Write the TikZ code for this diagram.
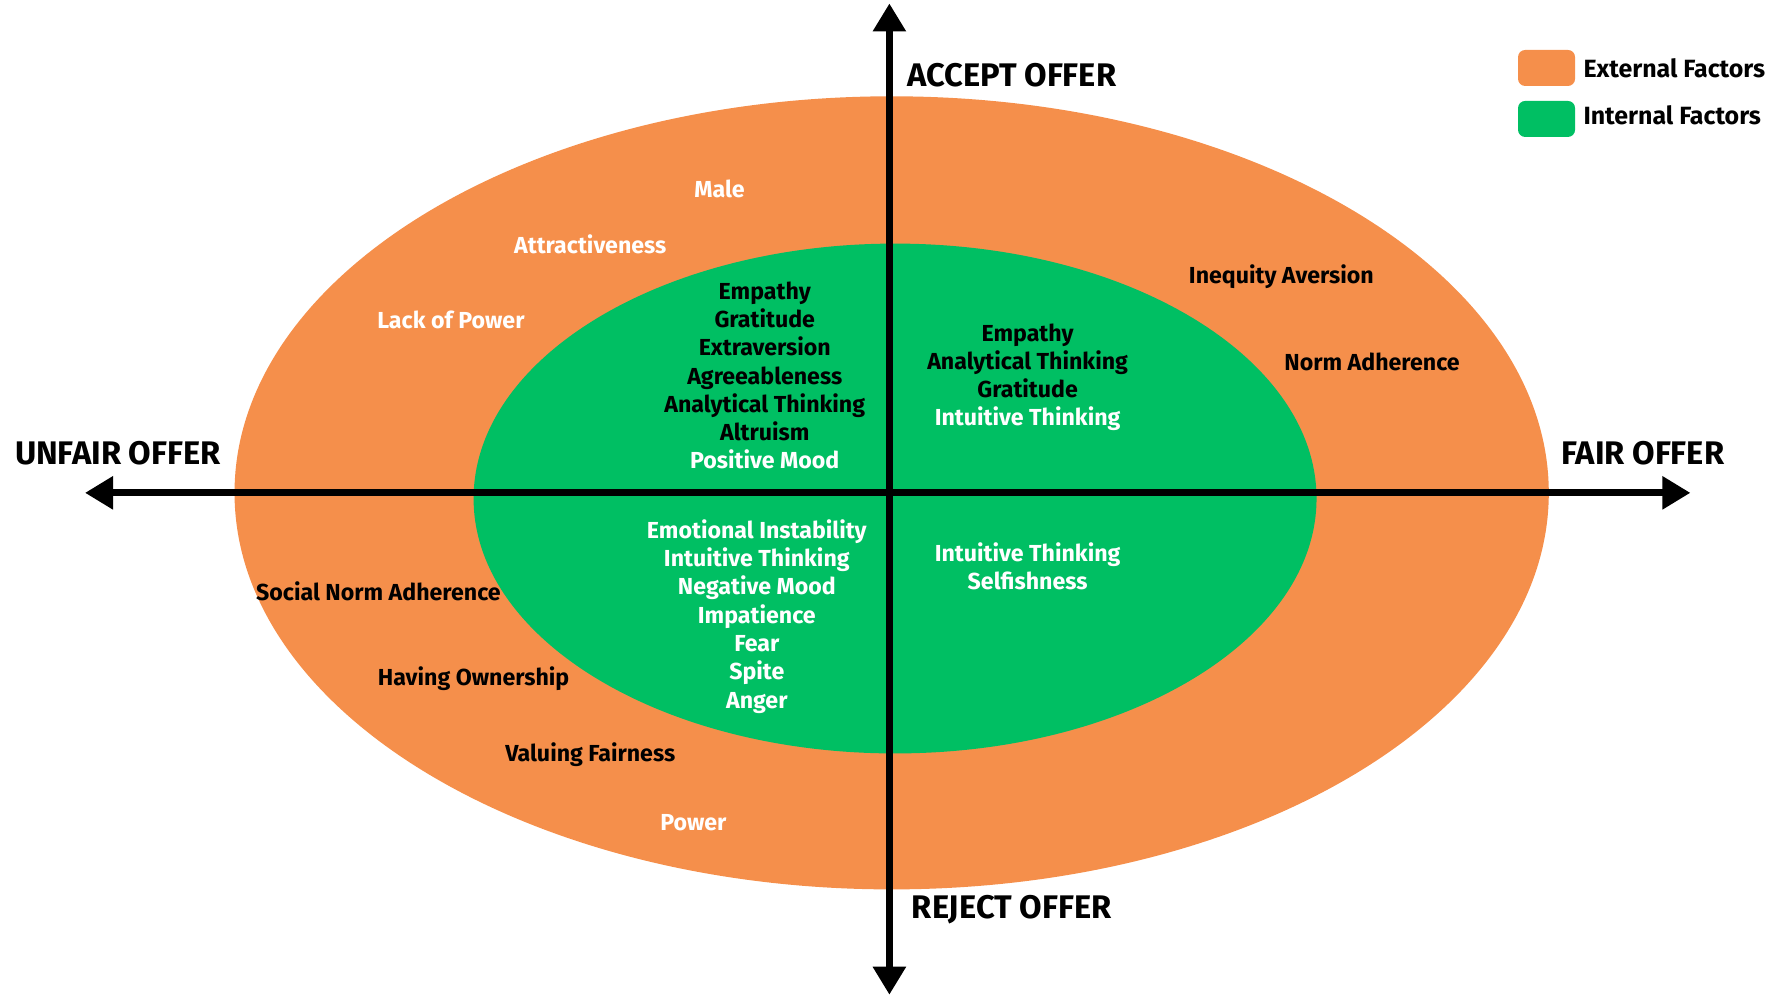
\documentclass[tikz,border=0pt]{standalone}
\usepackage{fontspec}
\setmainfont{Fira Sans}
\usetikzlibrary{arrows.meta}
\definecolor{extOrange}{HTML}{F58F4B}
\definecolor{intGreen}{HTML}{00BF63}
\tikzset{
    factor/.style={font=\fontsize{6.6}{8}\selectfont\bfseries,align=center,inner sep=0pt},
    light/.style={factor,text=white},
    dark/.style={factor,text=black},
    list/.style={font=\fontsize{6.6}{8.05}\selectfont\bfseries,anchor=north},
    axislabel/.style={font=\fontsize{9.3}{11}\selectfont\bfseries,inner sep=0pt},
    axis/.style={line width=2pt,{Triangle[length=8pt,width=9pt]}-{Triangle[length=8pt,width=9pt]}},
    key/.style={rounded corners=2pt,minimum width=0.57cm,minimum height=0.36cm,inner sep=0pt},
    keylabel/.style={dark,anchor=west,font=\fontsize{7.1}{9}\selectfont\bfseries}
}
\begin{document}
\begin{tikzpicture}[x=0.01133cm,y=-0.01133cm]
    \useasboundingbox (0,0) rectangle (1564,880);
    % ellipses
    \fill[extOrange] (787,435) ellipse[x radius=580,y radius=350];
    \fill[intGreen] (790,440) ellipse[x radius=372,y radius=225];
    % axes
    \coordinate (left) at (75,435);
    \coordinate (right) at (1492,435);
    \coordinate (top) at (785,3);
    \coordinate (bottom) at (785,878);
    \draw[axis] (left) -- (right);
    \draw[axis] (bottom) -- (top);
    \node[axislabel] (accept) at (893,66) {ACCEPT OFFER};
    \node[axislabel] (reject) at (893,803) {REJECT OFFER};
    \node[axislabel] (unfair) at (104,400) {UNFAIR OFFER};
    \node[axislabel] (fair) at (1450,400) {FAIR OFFER};
    % legend
    \node[key,fill=extOrange] (keyext) at (1365,60) {};
    \node[key,fill=intGreen] (keyint) at (1365,105) {};
    \node[keylabel] (extlab) at (1397,60) {External Factors};
    \node[keylabel] (intlab) at (1397,102) {Internal Factors};
    % external factors
    \node[light] (male) at (635,167) {Male};
    \node[light] (attract) at (521,216) {Attractiveness};
    \node[light] (lackpow) at (398,282) {Lack of Power};
    \node[dark] (inequity) at (1131,244) {Inequity Aversion};
    \node[dark] (norm) at (1211,319) {Norm Adherence};
    \node[dark] (social) at (334,522) {Social Norm Adherence};
    \node[dark] (owner) at (418,599) {Having Ownership};
    \node[dark] (fairness) at (521,666) {Valuing Fairness};
    \node[light] (power) at (612,726) {Power};
    % internal factors
    \node[dark,list] (ul) at (675,248)
        {Empathy\\Gratitude\\Extraversion\\Agreeableness\\Analytical Thinking\\Altruism\\\textcolor{white}{Positive Mood}};
    \node[dark,list] (ur) at (907,285)
        {Empathy\\Analytical Thinking\\Gratitude\\\textcolor{white}{Intuitive Thinking}};
    \node[light,list] (ll) at (668,458)
        {Emotional Instability\\Intuitive Thinking\\Negative Mood\\Impatience\\Fear\\Spite\\Anger};
    \node[light,list] (lr) at (907,478)
        {Intuitive Thinking\\Selfishness};
\end{tikzpicture}
\end{document}
